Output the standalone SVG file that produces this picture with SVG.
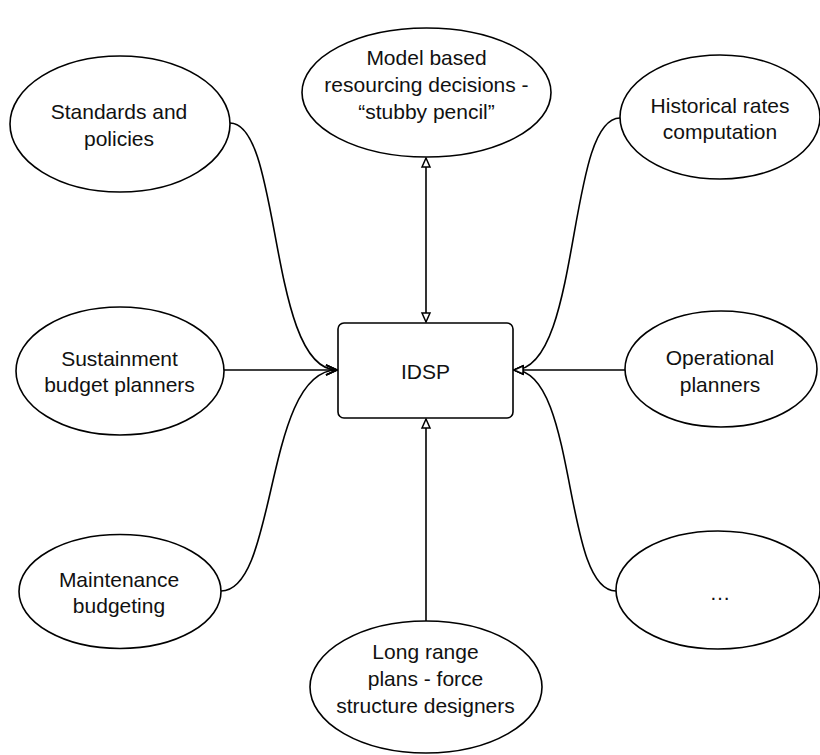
<svg xmlns="http://www.w3.org/2000/svg" width="820" height="755" viewBox="0 0 820 755">
<style>
.n{fill:#fff;stroke:#000;stroke-width:1.6}
.t{font-family:"Liberation Sans",Arial,sans-serif;font-size:21px;fill:#111;text-anchor:middle}
.e{fill:none;stroke:#000;stroke-width:1.6}
</style>
<defs>
<marker id="tri" markerUnits="userSpaceOnUse" viewBox="-12 -7 14 14" refX="0" refY="0" markerWidth="14" markerHeight="14" orient="auto-start-reverse">
<path d="M-9,-4 L0,0 L-9,4 Z" fill="#fff" stroke="#000" stroke-width="1.5"/>
</marker>
<marker id="open" markerUnits="userSpaceOnUse" viewBox="-14 -8 16 16" refX="0" refY="0" markerWidth="16" markerHeight="16" orient="auto">
<path d="M-11,-5 L0,0 L-11,5" fill="none" stroke="#000" stroke-width="1.6"/>
</marker>
</defs>
<rect width="820" height="755" fill="#fff"/>
<g id="connectors">
<path class="e" d="M230,123 C282,123 268,370 337,370" marker-end="url(#open)"/>
<path class="e" d="M224,370 L337,370" marker-end="url(#open)"/>
<path class="e" d="M221,591 C278,591 264,370 337,370" marker-end="url(#open)"/>
<path class="e" d="M620,118 C566,118 582,370 514,370" marker-end="url(#tri)"/>
<path class="e" d="M625,370 L514,370" marker-end="url(#tri)"/>
<path class="e" d="M616,591 C562,591 578,370 514,370" marker-end="url(#tri)"/>
<path class="e" d="M426,158 L426,322" marker-start="url(#tri)" marker-end="url(#tri)"/>
<path class="e" d="M426,621 L426,419" marker-end="url(#tri)"/>
</g>
<g id="idsp">
<rect class="n" x="338" y="323" width="175" height="95" rx="6"/>
<text class="t" x="425.5" y="379">IDSP</text>
</g>
<g id="standards">
<ellipse class="n" cx="120" cy="124" rx="110" ry="68"/>
<text class="t" x="119" y="119">Standards and</text>
<text class="t" x="119" y="146">policies</text>
</g>
<g id="model">
<ellipse class="n" cx="426.5" cy="92.5" rx="124.5" ry="64.5"/>
<text class="t" x="426.5" y="65">Model based</text>
<text class="t" x="426.5" y="92">resourcing decisions -</text>
<text class="t" x="426.5" y="119">“stubby pencil”</text>
</g>
<g id="historical">
<ellipse class="n" cx="720" cy="117" rx="100" ry="62"/>
<text class="t" x="720" y="113">Historical rates</text>
<text class="t" x="720" y="139">computation</text>
</g>
<g id="sustainment">
<ellipse class="n" cx="120" cy="371" rx="104" ry="64"/>
<text class="t" x="119.5" y="366">Sustainment</text>
<text class="t" x="119.5" y="392">budget planners</text>
</g>
<g id="operational">
<ellipse class="n" cx="721" cy="369" rx="96" ry="58"/>
<text class="t" x="720" y="365">Operational</text>
<text class="t" x="720" y="392">planners</text>
</g>
<g id="maintenance">
<ellipse class="n" cx="120" cy="591.5" rx="101" ry="57"/>
<text class="t" x="119" y="587">Maintenance</text>
<text class="t" x="119" y="613">budgeting</text>
</g>
<g id="more">
<ellipse class="n" cx="718" cy="590" rx="102" ry="59"/>
<text class="t" x="720" y="600">…</text>
</g>
<g id="longrange">
<ellipse class="n" cx="426" cy="687" rx="116" ry="66"/>
<text class="t" x="425.5" y="659">Long range</text>
<text class="t" x="425.5" y="686">plans - force</text>
<text class="t" x="425.5" y="713">structure designers</text>
</g>
</svg>
